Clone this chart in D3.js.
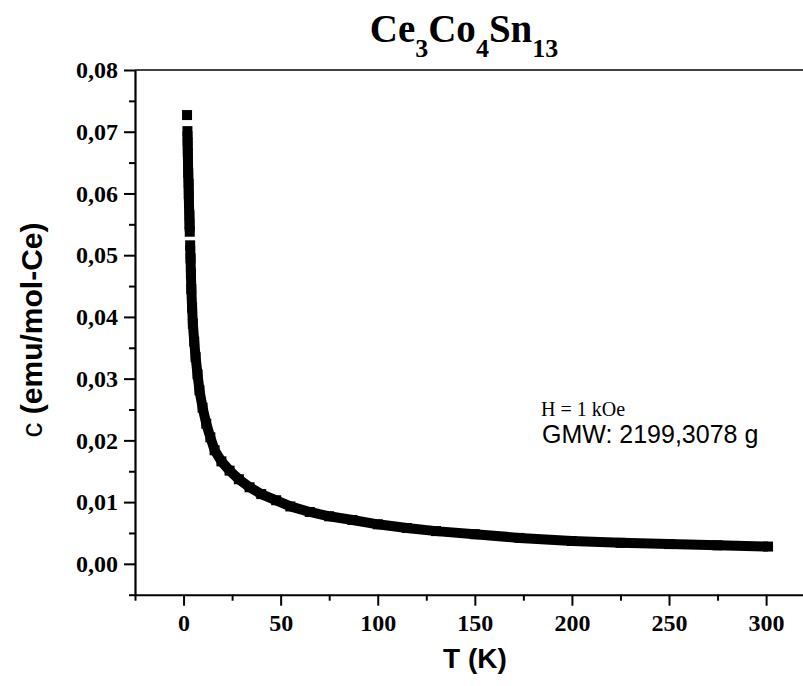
<!DOCTYPE html>
<html><head><meta charset="utf-8">
<script src="https://cdn.jsdelivr.net/npm/d3@7/dist/d3.min.js"></script>
<style>body{margin:0;background:#fff}svg{display:block}</style>
</head><body>
<svg id="chart" width="803" height="686"></svg>
<script>
// Data: temperature (K) and susceptibility (emu/mol-Ce)
const temperature = [1.8, 2.0, 2.1, 2.2, 2.3, 2.4, 2.6, 2.7, 2.8, 3.0, 3.1, 3.2,
  3.4, 3.6, 3.8, 4.0, 4.4, 4.8, 5.5, 6.2, 7.2, 8.2, 9.8, 11.7, 13.8, 16, 19.5, 23.7,
  28.5, 34, 40, 47.7, 55, 65, 75, 87, 100, 115, 130, 150, 173, 200, 225, 250, 275, 301];
const chi = [0.0727, 0.0701, 0.0684, 0.0667, 0.0650, 0.0633, 0.0616, 0.0599, 0.0582, 0.0565, 0.0550, 0.0538,
  0.0516, 0.0495, 0.0470, 0.0445, 0.0415, 0.0389, 0.0360, 0.0335, 0.0307, 0.0281, 0.0253, 0.0227, 0.0205, 0.0184, 0.0166, 0.0151,
  0.0137, 0.0124, 0.0113, 0.0103, 0.0093, 0.0084, 0.0077, 0.0071, 0.0064, 0.0058, 0.0053, 0.0048, 0.0042, 0.0037, 0.0034, 0.0032, 0.0030, 0.0028];
// indices where the measured sequence has a visible gap
const segmentStarts = [0, 1, 12];
const xMajorTicks = [0, 50, 100, 150, 200, 250, 300];
const xMinorTicks = [-25, 25, 75, 125, 175, 225, 275];
const yMajorTicks = [0, 0.01, 0.02, 0.03, 0.04, 0.05, 0.06, 0.07, 0.08];
const yMinorTicks = [-0.005, 0.005, 0.015, 0.025, 0.035, 0.045, 0.055, 0.065, 0.075];
const titleParts = [["Ce", false], ["3", true], ["Co", false], ["4", true], ["Sn", false], ["13", true]];
const xLabel = "T (K)";
const yLabelSymbol = "c";
const yLabelRest = " (emu/mol-Ce)";
const note1 = "H = 1 kOe";
const note2 = "GMW: 2199,3078 g";

const svg = d3.select("#chart");
const L = 135, R = 803, T = 70, B = 594.7;
const x = d3.scaleLinear().domain([-25, 319]).range([L, R]);
const y = d3.scaleLinear().domain([-0.005, 0.08]).range([B, T]);
const loc = d3.formatLocale({decimal: ",", thousands: ".", grouping: [3], currency: ["", ""]});
const fy = loc.format(".2f");

const serif = "'Liberation Serif','Times New Roman',serif";
const sans = "'Liberation Sans',Arial,sans-serif";

// top frame line
svg.append("line").attr("x1", L).attr("x2", R).attr("y1", T).attr("y2", T)
  .attr("stroke", "#000").attr("stroke-width", 1.4);

// X axis
const gx = svg.append("g").attr("transform", `translate(0,${B})`);
gx.call(d3.axisBottom(x).tickValues(xMinorTicks).tickSize(6).tickFormat("").tickSizeOuter(0));
gx.call(g => g.select(".domain").remove());
const gx2 = svg.append("g").attr("transform", `translate(0,${B})`)
  .call(d3.axisBottom(x).tickValues(xMajorTicks).tickSize(11).tickPadding(8).tickSizeOuter(0).tickFormat(d3.format("d")));
gx2.select(".domain").attr("stroke-width", 2);
gx2.selectAll("text").attr("font-family", serif).attr("font-weight", "bold").attr("font-size", 24).attr("fill", "#000");

// Y axis
const gy = svg.append("g").attr("transform", `translate(${L},0)`);
gy.call(d3.axisLeft(y).tickValues(yMinorTicks).tickSize(6).tickFormat("").tickSizeOuter(0));
gy.call(g => g.select(".domain").remove());
const gy2 = svg.append("g").attr("transform", `translate(${L},0)`)
  .call(d3.axisLeft(y).tickValues(yMajorTicks).tickSize(11).tickPadding(6).tickSizeOuter(0).tickFormat(fy));
gy2.select(".domain").attr("stroke-width", 2.2);
gy2.selectAll("text").attr("font-family", serif).attr("font-weight", "bold").attr("font-size", 24).attr("fill", "#000");
svg.selectAll(".tick line").attr("stroke-width", 2);

// data: thick joined band + square markers
const pts = temperature.map((t, i) => ({t, c: chi[i], i}));
const bounds = segmentStarts.concat([pts.length]);
const line = d3.line().x(d => x(d.t)).y(d => y(d.c));
for (let s = 0; s < segmentStarts.length; s++) {
  const seg = pts.slice(bounds[s], bounds[s + 1]);
  if (seg.length > 1) svg.append("path").datum(seg).attr("d", line)
    .attr("fill", "none").attr("stroke", "#000").attr("stroke-width", 10).attr("stroke-linejoin", "round");
}
const sq = 10;
svg.append("g").selectAll("rect").data(pts).join("rect")
  .attr("x", d => x(d.t) - sq / 2).attr("y", d => y(d.c) - sq / 2)
  .attr("width", sq).attr("height", sq).attr("fill", "#000");

// title
const title = svg.append("text").attr("x", 464).attr("y", 42).attr("text-anchor", "middle")
  .attr("font-family", serif).attr("font-weight", "bold").attr("font-size", 39).attr("fill", "#000");
titleParts.forEach(([s, sub], i) => {
  const prev = i > 0 ? titleParts[i - 1][1] : false;
  const ts = title.append("tspan").text(s);
  if (sub) ts.attr("font-size", 26).attr("dy", 15);
  else if (prev) ts.attr("dy", -15);
});

// axis labels
svg.append("text").attr("x", 475).attr("y", 668).attr("text-anchor", "middle")
  .attr("font-family", sans).attr("font-weight", "bold").attr("font-size", 28).attr("fill", "#000").text(xLabel);
const yl = svg.append("text").attr("transform", "translate(42,330) rotate(-90)").attr("text-anchor", "middle")
  .attr("font-family", sans).attr("font-size", 30).attr("fill", "#000");
yl.append("tspan").attr("font-weight", "normal").text(yLabelSymbol);
yl.append("tspan").attr("font-weight", "bold").text(yLabelRest);

// annotations
svg.append("text").attr("x", 541).attr("y", 416).attr("font-family", serif).attr("font-size", 20)
  .attr("fill", "#000").text(note1);
svg.append("text").attr("x", 542).attr("y", 443).attr("font-family", sans).attr("font-size", 25)
  .attr("fill", "#000").text(note2);
</script>
</body></html>
